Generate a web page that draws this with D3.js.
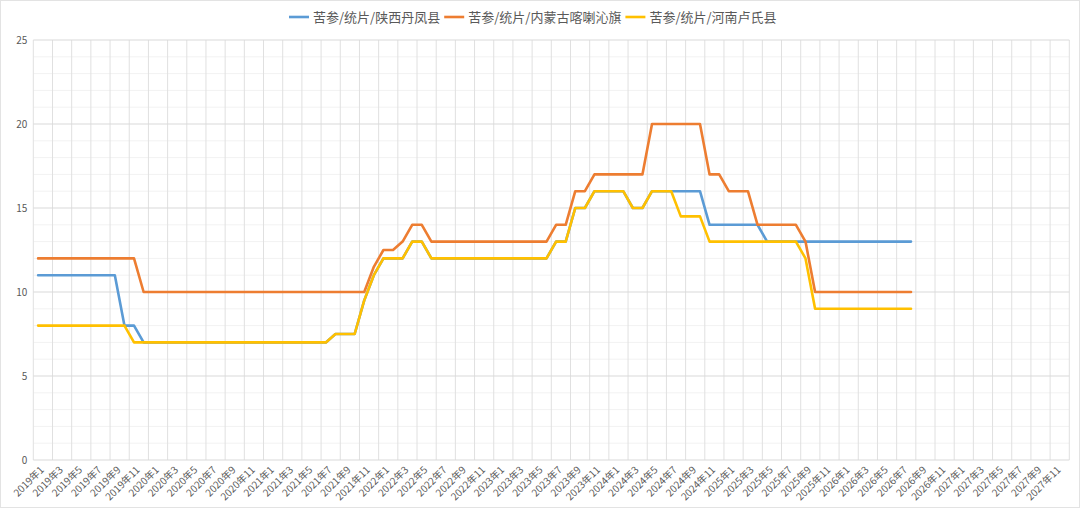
<!DOCTYPE html>
<html>
<head>
<meta charset="utf-8">
<script src="https://cdn.jsdelivr.net/npm/d3@7"></script>
<style>
  html, body { margin: 0; padding: 0; background: #fff; }
  svg { display: block; }
  text { font-family: "Noto Sans CJK SC", "Noto Sans", sans-serif; fill: #595959; }
</style>
</head>
<body>
<svg id="chart" width="1080" height="511"></svg>
<script>
const years = [2019, 2020, 2021, 2022, 2023, 2024, 2025, 2026, 2027];
const monthNums = [1,2,3,4,5,6,7,8,9,10,11,12];
const categories = [];
years.forEach(y => monthNums.forEach(m => categories.push(y + "年" + m)));

const seriesNames = ["苦参/统片/陕西丹凤县", "苦参/统片/内蒙古喀喇沁旗", "苦参/统片/河南卢氏县"];
const seriesColors = ["#5B9BD5", "#ED7D31", "#FFC000"];

const shaanxi = [
  11,11,11,11,11,11,11,11,11, 8,8,
  7,7,7,7,7,7,7,7,7,7,7,7,7,7,7,7,7,7,7,7,
  7.5,7.5,7.5, 9.5, 11,
  12,12,12, 13,13,
  12,12,12,12,12,12,12,12,12,12,12,12,12,
  13,13, 15,15, 16,16,16,16, 15,15,
  16,16,16,16,16,16,
  14,14,14,14,14,14,
  13,13,13,13,13,13,13,13,13,13,13,13,13,13,13,13
];
const neimenggu = [
  12,12,12,12,12,12,12,12,12,12,12,
  10,10,10,10,10,10,10,10,10,10,10,10,10,10,10,10,10,10,10,10,10,10,10,10,
  11.5, 12.5,12.5, 13, 14,14,
  13,13,13,13,13,13,13,13,13,13,13,13,13,
  14,14, 16,16,
  17,17,17,17,17,17,
  20,20,20,20,20,20,
  17,17, 16,16,16,
  14,14,14,14,14, 13,
  10,10,10,10,10,10,10,10,10,10,10
];
const henan = [
  8,8,8,8,8,8,8,8,8,8,
  7,7,7,7,7,7,7,7,7,7,7,7,7,7,7,7,7,7,7,7,7,
  7.5,7.5,7.5, 9.5, 11,
  12,12,12, 13,13,
  12,12,12,12,12,12,12,12,12,12,12,12,12,
  13,13, 15,15, 16,16,16,16, 15,15,
  16,16,16, 14.5,14.5,14.5,
  13,13,13,13,13,13,13,13,13,13, 12,
  9,9,9,9,9,9,9,9,9,9,9
];
const yTicks = [0, 5, 10, 15, 20, 25];
const seriesData = [shaanxi, neimenggu, henan];

const svg = d3.select("#chart");
const W = 1080, H = 511;
const plot = { left: 33.3, right: 1069.3, top: 40, bottom: 460 };

// outer border
svg.append("rect").attr("x", 0.5).attr("y", 0.5).attr("width", W - 1).attr("height", H - 4)
  .attr("fill", "#fff").attr("stroke", "#e3e3e3");

const x = d3.scaleBand().domain(categories).range([plot.left, plot.right]).padding(0);
const y = d3.scaleLinear().domain([0, 25]).range([plot.bottom, plot.top]);
const cx = i => x(categories[i]) + x.bandwidth() / 2;

// minor horizontal gridlines
const minor = d3.range(0, 26).filter(v => v % 5 !== 0);
svg.append("g").selectAll("line").data(minor).join("line")
  .attr("x1", plot.left).attr("x2", plot.right)
  .attr("y1", d => y(d)).attr("y2", d => y(d))
  .attr("stroke", "#f2f2f2").attr("stroke-width", 1);

// vertical gridlines every 2 categories
const vIdx = categories.map((c, i) => i).filter(i => i % 2 === 0);
svg.append("g").selectAll("line").data(vIdx).join("line")
  .attr("x1", i => x(categories[i])).attr("x2", i => x(categories[i]))
  .attr("y1", plot.top).attr("y2", plot.bottom)
  .attr("stroke", "#e0e0e0").attr("stroke-width", 1);
svg.append("line").attr("x1", plot.right).attr("x2", plot.right)
  .attr("y1", plot.top).attr("y2", plot.bottom).attr("stroke", "#e0e0e0");

// major horizontal gridlines
svg.append("g").selectAll("line").data(yTicks).join("line")
  .attr("x1", plot.left).attr("x2", plot.right)
  .attr("y1", d => y(d)).attr("y2", d => y(d))
  .attr("stroke", "#d9d9d9").attr("stroke-width", 1);

// y axis labels
const yAxis = d3.axisLeft(y).tickValues(yTicks).tickSize(0).tickPadding(6);
const yg = svg.append("g").attr("transform", `translate(${plot.left},0)`).call(yAxis);
yg.select(".domain").remove();
yg.selectAll("text").attr("font-size", 10).style("fill", "#595959")
  .attr("font-family", "'Noto Sans CJK SC', sans-serif");

// x axis labels
const labIdx = vIdx;
svg.append("g").selectAll("text").data(labIdx).join("text")
  .attr("transform", i => `translate(${cx(i) + 4},${plot.bottom + 8}) rotate(-45)`)
  .attr("text-anchor", "end").attr("dy", "0.35em")
  .attr("font-size", 10)
  .text(i => categories[i]);

// lines
const line = d3.line().x((d, i) => cx(i)).y(d => y(d));
seriesData.forEach((s, k) => {
  svg.append("path").datum(s)
    .attr("d", line)
    .attr("fill", "none")
    .attr("stroke", seriesColors[k])
    .attr("stroke-width", 2.6)
    .attr("stroke-linejoin", "round")
    .attr("stroke-linecap", "round");
});

// legend
const lg = svg.append("g");
let lx = 289;
const ly = 17;
seriesNames.forEach((name, k) => {
  lg.append("line").attr("x1", lx).attr("x2", lx + 20).attr("y1", ly).attr("y2", ly)
    .attr("stroke", seriesColors[k]).attr("stroke-width", 2.6);
  const t = lg.append("text").attr("x", lx + 24).attr("y", ly).attr("dy", "0.35em")
    .attr("font-size", 13).text(name);
  const w = t.node().getComputedTextLength();
  lx = lx + 24 + w + 4;
});
</script>
</body>
</html>
